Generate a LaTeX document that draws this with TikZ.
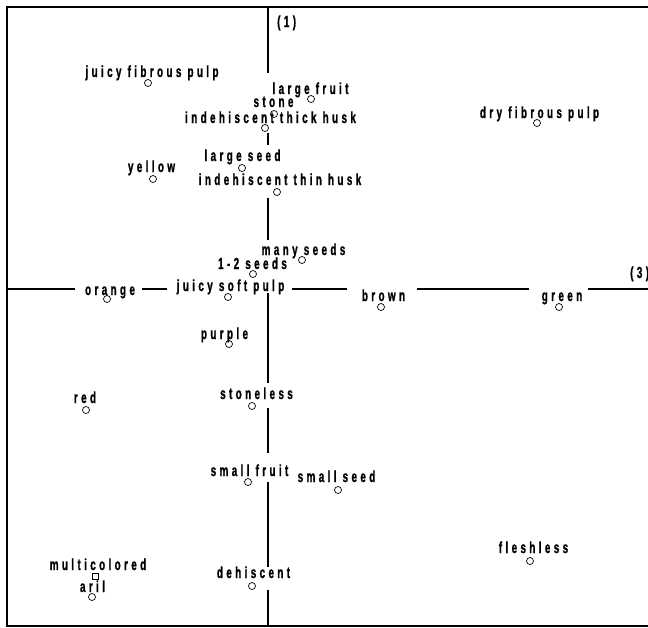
\documentclass[tikz,border=0pt]{standalone}
\usepackage{fontspec}
\newfontfamily\labfont{Liberation Sans}[FakeStretch=0.62,LetterSpace=21,FakeBold=1]
\begin{document}
\begin{tikzpicture}[x=1pt,y=-1pt,
  lab/.style={font=\labfont\bfseries\fontsize{16}{18}\selectfont,inner sep=0pt,anchor=base},
  pt/.style={circle,draw,line width=0.7pt,minimum size=7pt,inner sep=0pt},
  sq/.style={rectangle,draw,line width=0.7pt,minimum size=6pt,inner sep=0pt},
  axis/.style={line width=1.4pt},
  frame/.style={line width=1.4pt}]
\useasboundingbox (0,0) rectangle (648,627);
% frame
\coordinate (fTR) at (648,7);
\coordinate (fTL) at (7,7);
\coordinate (fBL) at (7,626);
\coordinate (fBR) at (648,626);
\draw[frame] (fTR) -- (fTL) -- (fBL) -- (fBR);
% vertical axis segments
\foreach \a/\b [count=\i] in {7/73,133/145,198/240,293/383,408/453,482/567,590/626}{
  \coordinate (v\i a) at (268,\a);
  \coordinate (v\i b) at (268,\b);
  \draw[axis] (v\i a) -- (v\i b);
}
% horizontal axis segments
\foreach \a/\b [count=\i] in {7/75,142/167,292/347,417/529,588/648}{
  \coordinate (h\i a) at (\a,289);
  \coordinate (h\i b) at (\b,289);
  \draw[axis] (h\i a) -- (h\i b);
}
% axis labels
\node[lab,anchor=base west] (ax1) at (277,27) {(1)};
\node[lab,anchor=base west] (ax3) at (630,278) {(3)};
% labels
\node[lab] (tjfp) at (152,77) {juicy fibrous pulp};
\node[lab] (tlf) at (310.5,94) {large fruit};
\node[lab] (tst) at (273.5,107) {stone};
\node[lab] (tith) at (270.5,123) {indehiscent thick husk};
\node[lab] (tls) at (242.5,161) {large seed};
\node[lab] (tye) at (151.5,172) {yellow};
\node[lab] (titn) at (280,185) {indehiscent thin husk};
\node[lab] (tdfp) at (539.5,118) {dry fibrous pulp};
\node[lab] (tms) at (303.5,255) {many seeds};
\node[lab] (ts12) at (252.5,269) {1-2 seeds};
\node[lab] (tor) at (110,295) {orange};
\node[lab] (tjsp) at (230.5,291) {juicy soft pulp};
\node[lab] (tbr) at (383.5,301) {brown};
\node[lab] (tgr) at (562,301) {green};
\node[lab] (tpu) at (224.5,339) {purple};
\node[lab] (tred) at (85,403) {red};
\node[lab] (tsl) at (256.5,399) {stoneless};
\node[lab] (tsf) at (249.5,476) {small fruit};
\node[lab] (tss) at (336.5,482) {small seed};
\node[lab] (tmc) at (98,570) {multicolored};
\node[lab] (tar) at (92.5,592) {aril};
\node[lab] (tdh) at (253.5,578) {dehiscent};
\node[lab] (tfl) at (533.5,553) {fleshless};
% points
\node[pt] (pjfp) at (148,83) {};
\node[pt] (plf) at (311,99) {};
\node[pt] (pst) at (274,114) {};
\node[pt] (pith) at (265,128) {};
\node[pt] (pls) at (242,168) {};
\node[pt] (pye) at (153,179) {};
\node[pt] (pitn) at (277,192) {};
\node[pt] (pdfp) at (537,123) {};
\node[pt] (pms) at (302,260) {};
\node[pt] (ps12) at (253,274) {};
\node[pt] (por) at (107,299) {};
\node[pt] (pjsp) at (228,297) {};
\node[pt] (pbr) at (381,307) {};
\node[pt] (pgr) at (559,307) {};
\node[pt] (ppu) at (229,344) {};
\node[pt] (pred) at (86,410) {};
\node[pt] (psl) at (252,406) {};
\node[pt] (psf) at (248,482) {};
\node[pt] (pss) at (338,490) {};
\node[sq] (pmc) at (95,576) {};
\node[pt] (par) at (92,597) {};
\node[pt] (pdh) at (252,586) {};
\node[pt] (pfl) at (530,561) {};
\end{tikzpicture}
\end{document}
